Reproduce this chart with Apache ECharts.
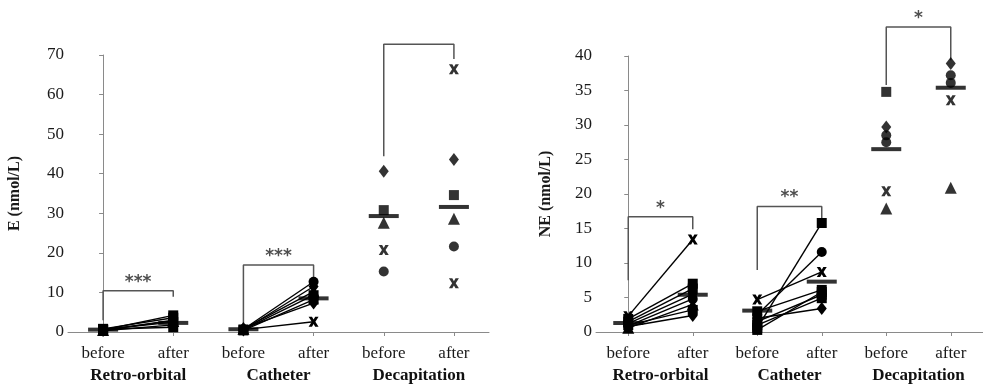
<!DOCTYPE html>
<html><head><meta charset="utf-8">
<script src="https://cdn.jsdelivr.net/npm/echarts@6/dist/echarts.min.js"></script>
<style>html,body{margin:0;padding:0;background:#fff}#c{width:983px;height:391px}</style>
</head><body><div id="c"></div>
<script>
// ---- categories / labels ----
const timeLabels = ['before','after','before','after','before','after'];
const groupLabels = ['Retro-orbital','Catheter','Decapitation'];
const eTicks = [0,10,20,30,40,50,60,70];
const neTicks = [0,5,10,15,20,25,30,35,40];

// ---- E (nmol/L) ----
const eRetroBefore = [0.5, 0.8, 0.4, 0.6, 0.3, 0.7, 0.5];
const eRetroAfter  = [4.2, 3.6, 3.0, 2.5, 1.8, 1.2, 2.8];
const eRetroSym    = ['rect','rect','diamond','rect','circle','rect','triangle'];
const eCathBefore  = [0.7, 0.5, 0.8, 0.6, 0.4, 0.9, 0.6];
const eCathAfter   = [12.7, 11.5, 10.2, 9.3, 8.2, 7.3, 2.6];
const eCathSym     = ['circle','diamond','triangle','rect','rect','diamond','x'];
const eDecBefore   = [40.6, 30.8, 27.6, 20.7, 15.3];
const eDecBeforeSym= ['diamond','rect','triangle','x','circle'];
const eDecAfter    = [66.4, 43.6, 34.6, 28.6, 21.6, 12.3];
const eDecAfterSym = ['x','diamond','rect','triangle','circle','x'];
const eMeans       = [0.6, 2.3, 0.7, 8.5, 29.3, 31.6];
// brackets: [left bottom, top, right bottom, stars]
const eBrackets = [[3.0, 10.4, 8.9, '***'], [1.3, 16.9, 13.9, '***'], [44.4, 72.7, 69.0, '']];

// ---- NE (nmol/L) ----
const neRetroBefore = [2.3, 1.9, 1.5, 1.2, 0.9, 0.6, 1.0, 0.8];
const neRetroAfter  = [13.4, 7.0, 6.3, 5.5, 4.8, 4.0, 3.2, 2.4];
const neRetroSym    = ['x','rect','rect','diamond','circle','triangle','rect','diamond'];
const neCathBefore  = [0.6, 2.5, 4.7, 3.0, 1.5, 1.0, 2.0, 0.3];
const neCathAfter   = [15.8, 11.6, 8.7, 6.1, 5.4, 4.9, 3.4, 5.8];
const neCathSym     = ['rect','circle','x','rect','rect','rect','diamond','rect'];
const neDecBefore   = [34.8, 29.7, 28.5, 27.5, 20.4, 17.9];
const neDecBeforeSym= ['rect','diamond','circle','circle','x','triangle'];
const neDecAfter    = [38.9, 37.2, 36.1, 33.6, 20.9];
const neDecAfterSym = ['diamond','circle','circle','x','triangle'];
const neMeans       = [1.3, 5.4, 3.1, 7.3, 26.5, 35.4];
const neBrackets = [[7.5, 16.7, 14.9, '*'], [9.0, 18.2, 16.2, '**'], [35.8, 44.2, 39.4, '*']];

// ---- styling helpers ----
const FONT = 'Liberation Serif';
const XPATH = 'path://M0,0 L3.4,0 L5,2.8 L6.6,0 L10,0 L6.8,5 L10,10 L6.6,10 L5,7.2 L3.4,10 L0,10 L3.2,5 Z';
function symOf(s){ return s === 'x' ? XPATH : s; }
function sizeOf(s){
  if (s === 'diamond') return [10, 13];
  if (s === 'triangle') return [12, 12];
  if (s === 'x') return [10, 10];
  if (s === 'circle') return 10;
  return 10;
}
function pt(x, y, s){ return {value:[x, y], symbol: symOf(s), symbolSize: sizeOf(s)}; }

const series = [];
function pairedLines(xv, yi, g, before, after, syms){
  for (let i = 0; i < before.length; i++){
    series.push({
      type:'line', xAxisIndex:xv, yAxisIndex:yi, silent:true, z:3,
      data:[pt(2*g, before[i], syms[i]), pt(2*g+1, after[i], syms[i])],
      lineStyle:{color:'#000', width:1.4}, itemStyle:{color:'#000'}
    });
  }
}
function dots(xv, yi, x, vals, syms){
  series.push({
    type:'scatter', xAxisIndex:xv, yAxisIndex:yi, silent:true, z:3,
    data: vals.map((v,i)=>pt(x, v, syms[i])), itemStyle:{color:'#000'}
  });
}
function means(xv, yi, m){
  series.push({
    type:'scatter', xAxisIndex:xv, yAxisIndex:yi, silent:true, z:4,
    symbol:'rect', symbolSize:[30, 4], itemStyle:{color:'#000'},
    data: m.map((v,i)=>[i, v])
  });
}
function brackets(xv, yi, br){
  br.forEach((b, g) => {
    series.push({
      type:'line', xAxisIndex:xv, yAxisIndex:yi, silent:true, clip:false, z:2,
      showSymbol:false, symbol:'none',
      data:[[2*g, b[0]], [2*g, b[1]], [2*g+1, b[1]], [2*g+1, b[2]]],
      lineStyle:{color:'#555', width:1.5}
    });
    if (b[3]) {
      series.push({
        type:'scatter', xAxisIndex:xv, yAxisIndex:yi, silent:true, clip:false,
        symbolSize:0, data:[[2*g+0.5, b[1]]],
        label:{show:true, position:'top', distance:0, formatter:b[3],
               color:'#222', fontSize:17, fontWeight:'bold', fontFamily:'DejaVu Sans'}
      });
    }
  });
}

// left chart: grid 0, axes x0(cat) x1(group) x2(value), y0
pairedLines(2, 0, 0, eRetroBefore, eRetroAfter, eRetroSym);
pairedLines(2, 0, 1, eCathBefore, eCathAfter, eCathSym);
dots(2, 0, 4, eDecBefore, eDecBeforeSym);
dots(2, 0, 5, eDecAfter, eDecAfterSym);
means(2, 0, eMeans);
brackets(2, 0, eBrackets);
// right chart: grid 1, axes x3 x4 x5, y1
pairedLines(5, 1, 0, neRetroBefore, neRetroAfter, neRetroSym);
pairedLines(5, 1, 1, neCathBefore, neCathAfter, neCathSym);
dots(5, 1, 4, neDecBefore, neDecBeforeSym);
dots(5, 1, 5, neDecAfter, neDecAfterSym);
means(5, 1, neMeans);
brackets(5, 1, neBrackets);

const axisGray = '#8a8a8a';
function catAxis(grid){
  return {type:'category', gridIndex:grid, data:timeLabels, position:'bottom',
    boundaryGap:true,
    axisLine:{show:true, lineStyle:{color:axisGray, width:1}},
    axisTick:{show:true, alignWithLabel:true, length:4, lineStyle:{color:axisGray}},
    axisLabel:{margin:13, color:'#1a1a1a', fontSize:17, fontFamily:FONT}};
}
function groupAxis(grid){
  return {type:'category', gridIndex:grid, data:groupLabels, position:'bottom', offset:23,
    axisLine:{show:false}, axisTick:{show:false},
    axisLabel:{margin:12, color:'#111', fontSize:17, fontWeight:'bold', fontFamily:FONT}};
}
function valXAxis(grid){
  return {type:'value', gridIndex:grid, min:-0.5, max:5.5, show:false};
}
function yAxis(grid, name, max, interval, gap, ticks){
  return {type:'value', gridIndex:grid, min:0, max:max, interval:interval,
    name:name, nameLocation:'middle', nameGap:gap,
    nameTextStyle:{fontFamily:FONT, fontWeight:'bold', fontSize:16, color:'#1a1a1a'},
    axisLine:{show:true, lineStyle:{color:axisGray, width:1}},
    axisTick:{show:true, length:4, lineStyle:{color:axisGray}},
    splitLine:{show:false},
    axisLabel:{margin:4, color:'#1a1a1a', fontSize:17, fontFamily:FONT,
      formatter: v => ticks.indexOf(v) >= 0 ? String(v) : ''}};
}

const option = {
  animation:false,
  backgroundColor:'#fff',
  grid:[
    {left:68, top:55, width:421, height:277},
    {left:596, top:56, width:400, height:276}
  ],
  xAxis:[catAxis(0), groupAxis(0), valXAxis(0), catAxis(1), groupAxis(1), valXAxis(1)],
  yAxis:[yAxis(0, 'E (nmol/L)', 70, 10, 45, eTicks), yAxis(1, 'NE (nmol/L)', 40, 5, 42, neTicks)],
  series: series
};
const chart = echarts.init(document.getElementById('c'), null, {renderer:'canvas'});
chart.setOption(option);
</script></body></html>
